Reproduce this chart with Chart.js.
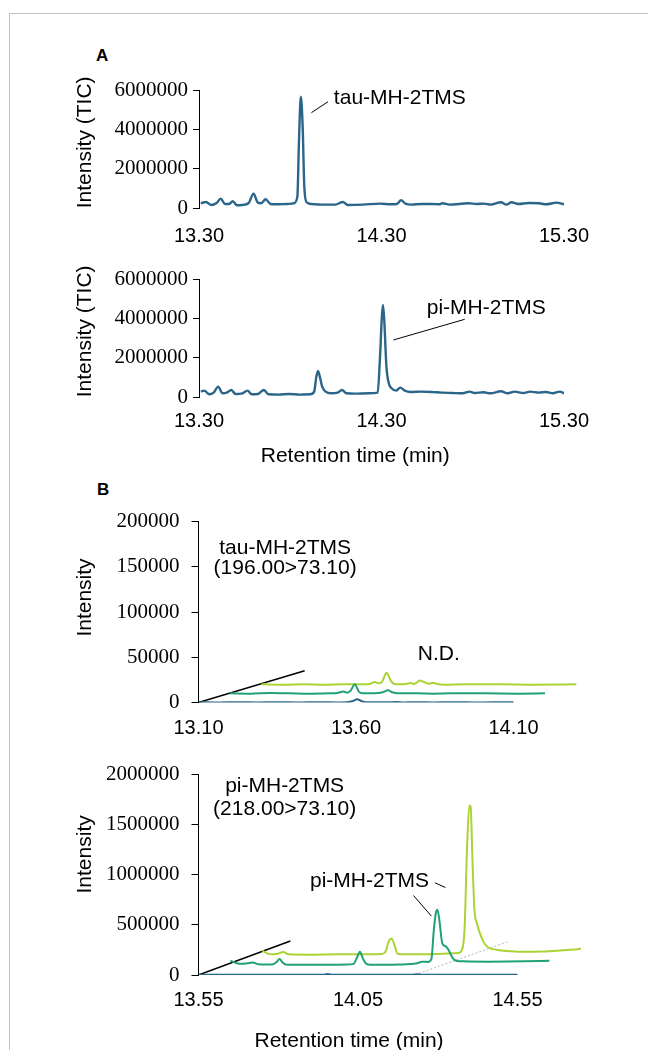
<!DOCTYPE html>
<html><head><meta charset="utf-8">
<script src="https://cdn.jsdelivr.net/npm/chart.js@4.4.1/dist/chart.umd.min.js"></script>
<style>
html,body{margin:0;padding:0;background:#fff;width:648px;height:1050px;overflow:hidden;}
#frame{position:absolute;left:9px;top:13px;width:700px;height:1100px;border-top:1px solid #c3c3c3;border-left:1px solid #c3c3c3;}
canvas{position:absolute;left:0;}
.lbl{position:absolute;font:bold 17px "Liberation Sans",Arial,sans-serif;color:#000;line-height:17px;}
</style></head><body>
<div id="frame"></div>
<div class="lbl" style="left:96px;top:47px">A</div>
<div class="lbl" style="left:97px;top:481px">B</div>
<canvas id="cA1" width="648" height="230" style="top:20px;width:648px;height:230px"></canvas>
<canvas id="cA2" width="648" height="230" style="top:250px;width:648px;height:230px"></canvas>
<canvas id="cB1" width="648" height="270" style="top:480px;width:648px;height:270px"></canvas>
<canvas id="cB2" width="648" height="310" style="top:750px;width:648px;height:310px"></canvas>
<script>
// ---------- DATA ----------
// Panel A (TIC), top: tau-MH-2TMS standard
const timeA1 = [13.31,13.338,13.366,13.395,13.419,13.442,13.465,13.485,13.508,13.537,13.571,13.599,13.622,13.641,13.665,13.692,13.726,13.782,13.820,13.839,13.848,13.858,13.868,13.877,13.890,13.915,13.972,14.047,14.089,14.114,14.199,14.293,14.350,14.384,14.407,14.431,14.464,14.520,14.577,14.615,14.634,14.672,14.776,14.823,14.861,14.899,14.955,14.984,15.012,15.050,15.107,15.164,15.202,15.258,15.300];
const ticA1 = [254000,321000,169000,254000,490000,220000,220000,355000,152000,169000,254000,744000,287000,254000,456000,220000,203000,220000,254000,592000,3465000,5662000,4141000,1099000,304000,220000,186000,186000,321000,169000,186000,237000,203000,220000,406000,237000,186000,220000,220000,203000,254000,186000,254000,220000,237000,186000,304000,186000,304000,220000,270000,254000,203000,287000,203000];
// Panel A (TIC), bottom: pi-MH-2TMS standard
const timeA2 = [13.310,13.329,13.357,13.380,13.405,13.429,13.452,13.477,13.500,13.538,13.566,13.589,13.623,13.656,13.680,13.737,13.794,13.851,13.908,13.931,13.943,13.952,13.962,13.975,13.994,14.022,14.060,14.083,14.108,14.155,14.231,14.279,14.292,14.302,14.308,14.315,14.327,14.340,14.355,14.380,14.403,14.427,14.460,14.517,14.574,14.631,14.688,14.745,14.783,14.811,14.859,14.897,14.954,14.992,15.030,15.077,15.115,15.163,15.201,15.239,15.277,15.300];
const ticA2 = [288000,339000,153000,237000,542000,203000,237000,373000,169000,203000,339000,153000,169000,373000,153000,136000,169000,136000,153000,288000,1051000,1339000,1051000,542000,288000,203000,237000,373000,203000,186000,203000,237000,2068000,4102000,4695000,3932000,1559000,712000,458000,339000,492000,339000,271000,288000,271000,237000,220000,203000,288000,220000,254000,203000,305000,203000,288000,220000,288000,237000,271000,203000,288000,203000];
const ticksXA = [13.30, 14.30, 15.30];
const ticksYA = [0, 2000000, 4000000, 6000000];

// Panel B, top: tau-MH-2TMS MRM (196.00>73.10), three stacked samples
const timeB1Blue = [13.10,13.159,13.223,13.286,13.350,13.413,13.477,13.540,13.577,13.591,13.604,13.617,13.630,13.688,13.731,13.752,13.794,13.847,13.900,13.953,14.006,14.059,14.10];
const intB1Blue = [300,0,400,100,300,0,400,100,600,1700,3500,1700,300,200,600,0,300,0,300,200,0,300,200];
const timeB1Teal = [13.20,13.265,13.329,13.392,13.456,13.519,13.545,13.561,13.572,13.583,13.596,13.609,13.620,13.646,13.678,13.688,13.701,13.715,13.731,13.794,13.847,13.900,14.006,14.112,14.20];
const intB1Teal = [10100,9800,10500,10100,9800,10100,10900,12300,10900,13100,20100,12000,10100,10100,10900,11600,13500,11300,10100,10100,9800,10100,10100,9800,10100];
const timeB1Lime = [13.30,13.371,13.434,13.498,13.561,13.625,13.646,13.659,13.672,13.683,13.697,13.710,13.720,13.736,13.763,13.773,13.783,13.794,13.803,13.815,13.831,13.845,13.858,13.879,13.953,14.059,14.164,14.30];
const intB1Lime = [20100,19700,20100,19700,20100,20100,20800,22700,21200,23100,33000,24200,20800,20100,20800,21600,20500,22300,24200,22700,20800,21900,20500,19700,20100,20100,19700,20100];
const ticksXB1 = [13.10, 13.60, 14.10];
const ticksYB1 = [0, 50000, 100000, 150000, 200000];

// Panel B, bottom: pi-MH-2TMS MRM (218.00>73.10), three stacked samples
const timeB2Blue = [13.55,13.65,13.75,13.85,13.94,13.955,13.97,14.05,14.15,14.22,14.235,14.25,14.35,14.45,14.55];
const intB2Blue = [3000,2000,3000,2000,3000,9000,3000,2000,3000,3000,8000,3000,2000,3000,2000];
const timeB2Teal = [13.65,13.670,13.687,13.704,13.720,13.737,13.765,13.784,13.795,13.804,13.813,13.823,13.877,13.956,14.011,14.036,14.047,14.056,14.065,14.076,14.090,14.179,14.235,14.252,14.269,14.280,14.288,14.294,14.299,14.306,14.314,14.325,14.336,14.347,14.358,14.381,14.459,14.571,14.65];
const intB2Teal = [142900,117500,111100,117500,123800,107900,104800,107900,130200,158700,127000,104800,101600,101600,104800,111100,174600,231700,168300,111100,101600,104800,117500,133300,130200,158700,460300,619000,650800,523800,317500,285700,238100,168300,142900,136500,133300,136500,142900];
const timeB2Lime = [13.75,13.765,13.782,13.799,13.816,13.832,13.900,13.989,14.068,14.123,14.137,14.146,14.155,14.164,14.174,14.191,14.291,14.347,14.364,14.375,14.384,14.392,14.399,14.403,14.409,14.415,14.422,14.431,14.443,14.454,14.470,14.493,14.527,14.571,14.627,14.683,14.728,14.75];
const intB2Lime = [244400,215900,206300,212700,228600,206300,203200,206300,206300,209500,238100,333300,365100,301600,212700,206300,209500,215900,219000,244400,460300,1285700,1692100,1682500,1127000,650800,523800,428600,333300,285700,260300,247600,238100,231700,234900,244400,254000,263500];
const ticksXB2 = [13.55, 14.05, 14.55];
const ticksYB2 = [0, 500000, 1000000, 1500000, 2000000];

// Depth-axis and guide lines of the stacked views (data units)
const depthB1 = [[13.10, 0], [13.437, 35200]];
const depthB2 = [[13.55, 0], [13.838, 340000]];
const guideB2 = [[14.241, 16000], [14.521, 333300]];
// Leader lines (data units)
const leaderA1 = [[13.916, 4849000], [14.007, 5407000]];
const leaderA2 = [[14.365, 2914000], [14.756, 3966000]];
const leaderB2a = [[14.291, 920600], [14.324, 873000]];
const leaderB2b = [[14.224, 793300], [14.280, 587600]];
// Text annotations (data units)
const notesA1 = [{text:'tau-MH-2TMS', x:14.039, y:5579000, align:'left'}];
const notesA2 = [{text:'pi-MH-2TMS', x:14.548, y:4525000, align:'left'}];
const notesB1 = [{text:'tau-MH-2TMS', x:13.375, y:170600, align:'center'},
                 {text:'(196.00>73.10)', x:13.375, y:148500, align:'center'},
                 {text:'N.D.', x:13.863, y:53650, align:'center'}];
const notesB2 = [{text:'pi-MH-2TMS', x:13.82, y:1888600, align:'center'},
                 {text:'(218.00>73.10)', x:13.82, y:1650500, align:'center'},
                 {text:'pi-MH-2TMS', x:13.8995, y:936200, align:'left'}];

// ---------- STYLE / HELPERS ----------
const SANS = '"Liberation Sans", Arial, sans-serif';
const SERIF = '"Liberation Serif", "Times New Roman", serif';
const C_BLUE = '#2b6589', C_TEAL = '#22a078', C_LIME = '#aad434';

const pts = (xs, ys) => xs.map((x, i) => ({x, y: ys[i]}));
const pairPts = arr => arr.map(p => ({x: p[0], y: p[1]}));

function trace(xs, ys, color, w) {
  return {data: pts(xs, ys), borderColor: color, borderWidth: w, showLine: true, pointRadius: 0,
          cubicInterpolationMode: 'monotone', fill: false};
}
function segment(arr, color, w, dash) {
  return {data: pairPts(arr), borderColor: color, borderWidth: w, showLine: true, pointRadius: 0,
          tension: 0, borderDash: dash || [], fill: false};
}

const notePlugin = {
  id: 'notes',
  afterDatasetsDraw(chart, args, opts) {
    const items = opts.items || [];
    const ctx = chart.ctx, xs = chart.scales.x, ys = chart.scales.y;
    ctx.save();
    ctx.fillStyle = '#000';
    ctx.font = '21px ' + SANS;
    ctx.textBaseline = 'middle';
    items.forEach(it => {
      ctx.textAlign = it.align;
      ctx.fillText(it.text, xs.getPixelForValue(it.x), ys.getPixelForValue(it.y));
    });
    ctx.restore();
  }
};

function xScale(ticksArr, min, max, o) {
  return {
    type: 'linear', min, max,
    afterBuildTicks: s => { s.ticks = ticksArr.map(v => ({value: v})); },
    afterFit: s => { s.height = o.height; },
    border: {display: false},
    grid: {display: false, drawTicks: false},
    ticks: {color: '#000', padding: o.pad, maxRotation: 0, autoSkip: false,
            font: {family: SANS, size: 20}, callback: v => Number(v).toFixed(2)},
    title: o.title ? {display: true, text: o.title, color: '#000', font: {family: SANS, size: 21},
                      padding: {top: 0, bottom: o.tpb}} : {display: false}
  };
}
function yScale(ticksArr, o) {
  return {
    type: 'linear', min: ticksArr[0], max: ticksArr[ticksArr.length - 1],
    afterBuildTicks: s => { s.ticks = ticksArr.map(v => ({value: v})); },
    afterFit: s => { s.width = o.width; },
    border: {display: true, color: '#000', width: 1},
    grid: {display: true, drawOnChartArea: false, drawTicks: true, tickLength: o.tickLen, color: '#000', lineWidth: 1},
    ticks: {color: '#000', padding: o.pad, autoSkip: false, font: {family: SERIF, size: 21}, callback: v => String(v)},
    title: {display: true, text: o.title, align: o.align, color: '#000', font: {family: SANS, size: 21},
            padding: {top: 73, bottom: 0}}
  };
}
function make(id, datasets, scales, padding, notes) {
  new Chart(document.getElementById(id), {
    type: 'scatter',
    data: {datasets},
    plugins: [notePlugin],
    options: {
      responsive: false, animation: false, devicePixelRatio: 1, events: [],
      layout: {padding},
      plugins: {legend: {display: false}, tooltip: {enabled: false}, notes: {items: notes}},
      scales
    }
  });
}

// ---------- CHARTS ----------
make('cA1',
  [trace(timeA1, ticA1, C_BLUE, 2.4), segment(leaderA1, '#000', 1)],
  {x: xScale(ticksXA, 13.30, 15.30, {height: 41.7, pad: 16}),
   y: yScale(ticksYA, {width: 199, tickLen: 6, pad: 5, title: 'Intensity (TIC)', align: 'start'})},
  {left: 0, top: 70, right: 84, bottom: 0}, notesA1);

make('cA2',
  [trace(timeA2, ticA2, C_BLUE, 2.4), segment(leaderA2, '#000', 1)],
  {x: xScale(ticksXA, 13.30, 15.30, {height: 82.7, pad: 12, title: 'Retention time (min)         ', tpb: 10.7}),
   y: yScale(ticksYA, {width: 199, tickLen: 6, pad: 5, title: 'Intensity (TIC)', align: 'start'})},
  {left: 0, top: 29.3, right: 84, bottom: 0}, notesA2);

make('cB1',
  [trace(timeB1Blue, intB1Blue, C_BLUE, 2), trace(timeB1Teal, intB1Teal, C_TEAL, 2),
   trace(timeB1Lime, intB1Lime, C_LIME, 2), segment(depthB1, '#000', 1.5)],
  {x: xScale(ticksXB1, 13.10, 14.30, {height: 47.5, pad: 14}),
   y: yScale(ticksYB1, {width: 198.5, tickLen: 7, pad: 12, title: '     Intensity', align: 'center'})},
  {left: 0, top: 41.7, right: 71.5, bottom: 0}, notesB1);

make('cB2',
  [trace(timeB2Blue, intB2Blue, C_BLUE, 2), trace(timeB2Teal, intB2Teal, C_TEAL, 2),
   trace(timeB2Lime, intB2Lime, C_LIME, 2), segment(depthB2, '#000', 1.5),
   segment(guideB2, '#b5b5b5', 1, [2, 2]), segment(leaderB2a, '#000', 1), segment(leaderB2b, '#000', 1)],
  {x: xScale(ticksXB2, 13.55, 14.75, {height: 85, pad: 13, title: 'Retention time (min)              ', tpb: 5.7}),
   y: yScale(ticksYB2, {width: 198.5, tickLen: 7, pad: 12, title: '       Intensity', align: 'center'})},
  {left: 0, top: 15, right: 66.7, bottom: 0}, notesB2);
</script>
</body></html>
